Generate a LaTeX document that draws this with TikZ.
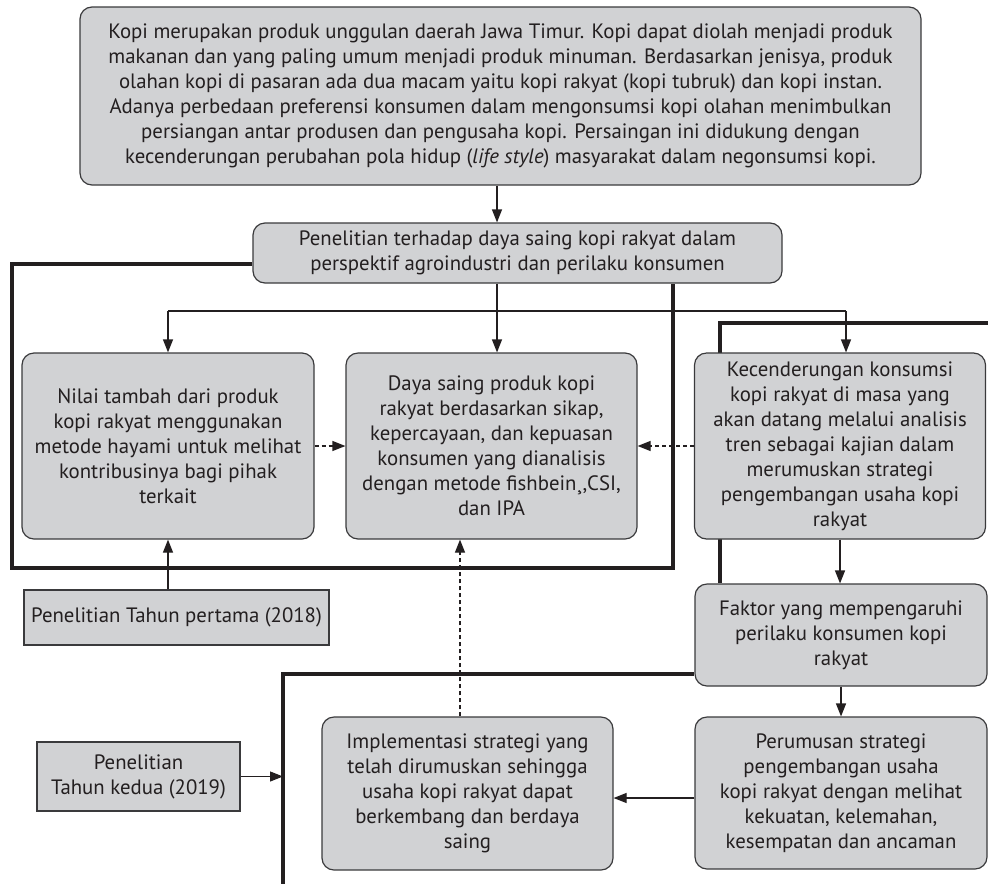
\documentclass[tikz,border=0pt]{standalone}
\usepackage{fontspec}
\setmainfont{PT Sans}
\usetikzlibrary{arrows.meta, backgrounds, positioning}
\definecolor{boxfill}{HTML}{D1D2D4}
\definecolor{boxline}{HTML}{3A3A3C}
\definecolor{ink}{HTML}{231F20}

\begin{document}
\begin{tikzpicture}[x=0.5pt, y=-0.5pt,
      every node/.style={font=\fontsize{10.4}{12.5}\selectfont, text=ink},
      kotak/.style={draw=boxline, fill=boxfill, line width=0.6pt, rounded corners=6pt, align=center, inner sep=0pt},
      kotaksiku/.style={draw=boxline, fill=boxfill, line width=0.6pt, align=center, inner sep=0pt},
      garis/.style={draw=ink, line width=0.6pt},
      panah/.style={garis, -{Triangle[length=6.5pt, width=5pt]}},
      panahputus/.style={panah, dash pattern=on 2pt off 1.5pt},
      bingkai/.style={draw=ink, line width=2pt}]
      \useasboundingbox (0,0) rectangle (988,884);

      %► Boxes
      \node[kotak, minimum width=420.5pt, minimum height=89pt] (intro) at (500.5,96)
        {Kopi merupakan produk unggulan daerah Jawa Timur. Kopi dapat diolah menjadi produk\\
         makanan dan yang paling umum menjadi produk minuman. Berdasarkan jenisya, produk\\
         olahan kopi di pasaran ada dua macam yaitu kopi rakyat (kopi tubruk) dan kopi instan.\\
         Adanya perbedaan preferensi konsumen dalam mengonsumsi kopi olahan menimbulkan\\
         persiangan antar produsen dan pengusaha kopi. Persaingan ini didukung dengan\\
         kecenderungan perubahan pola hidup (\textit{life style}) masyarakat dalam negonsumsi kopi.};
      \node[kotak, minimum width=264.5pt, minimum height=30pt] (riset) at (517.5,253)
        {Penelitian terhadap daya saing kopi rakyat dalam\\ perspektif agroindustri dan perilaku konsumen};
      \node[kotak, minimum width=146pt, minimum height=93pt] (nilai) at (168,446)
        {Nilai tambah dari produk\\ kopi rakyat menggunakan\\ metode hayami untuk melihat\\ kontribusinya bagi pihak\\ terkait};
      \node[kotak, minimum width=145.5pt, minimum height=93pt] (daya) at (491.5,446)
        {Daya saing produk kopi\\ rakyat berdasarkan sikap,\\ kepercayaan, dan kepuasan\\ konsumen yang dianalisis\\ dengan metode fishbein¸,CSI,\\ dan IPA};
      \node[kotak, minimum width=145.5pt, minimum height=93pt] (tren) at (840,446)
        {Kecenderungan konsumsi\\ kopi rakyat di masa yang\\ akan datang melalui analisis\\ tren sebagai kajian dalam\\ merumuskan strategi\\ pengembangan usaha kopi\\ rakyat};
      \node[kotak, minimum width=146pt, minimum height=51pt] (faktor) at (841,635)
        {Faktor yang mempengaruhi\\ perilaku konsumen kopi\\ rakyat};
      \node[kotak, minimum width=146pt, minimum height=76pt] (rumus) at (841,793)
        {Perumusan strategi\\ pengembangan usaha\\ kopi rakyat dengan melihat\\ kekuatan, kelemahan,\\ kesempatan dan ancaman};
      \node[kotak, minimum width=145.5pt, minimum height=76.5pt] (impl) at (467.5,793.5)
        {Implementasi strategi yang\\ telah dirumuskan sehingga\\ usaha kopi rakyat dapat\\ berkembang dan berdaya\\ saing};
      \node[kotaksiku, minimum width=152.5pt, minimum height=27.5pt] (tahun1) at (176.5,617.5)
        {Penelitian Tahun pertama (2018)};
      \node[kotaksiku, minimum width=101.5pt, minimum height=34.5pt] (tahun2) at (138.5,776.5)
        {Penelitian\\ Tahun kedua (2019)};

      %► Helper points
      \coordinate (cabang) at (497,311);
      \coordinate (k1) at (673,568);
      \coordinate (k2) at (988,323);
      \coordinate (k3) at (720,323);
      \coordinate (k4) at (283,884);

      %► Thick frames behind the boxes
      \begin{pgfonlayer}{background}
        \draw[bingkai] ([yshift=-5.5pt]riset.west) -- (12,264) -- (12,568) -- (k1) -- (k1 |- riset.south);
        \draw[bingkai] (k2) -- (k3) -- (k3 |- faktor.north);
        \draw[bingkai] ([yshift=-19.5pt]faktor.west) -| (k4);
      \end{pgfonlayer}

      %► Connectors
      \draw[panah] (cabang |- intro.south) -- (cabang |- riset.north);
      \draw[panah] (cabang |- riset.south) -- (cabang |- daya.north);
      \draw[garis] (cabang -| nilai.north) -- ([xshift=3pt]tren.north |- cabang);
      \draw[panah] (cabang -| nilai.north) -- (nilai.north);
      \draw[panah] ([xshift=3pt]tren.north |- cabang) -- ([xshift=3pt]tren.north);
      \draw[panahputus] (nilai.east) -- (daya.west);
      \draw[panahputus] (tren.west) -- (daya.east);
      \draw[panah] (nilai.south |- tahun1.north) -- (nilai.south);
      \draw[panahputus] ([xshift=-3.75pt]impl.north) -- ([xshift=-3.75pt]impl.north |- daya.south);
      \draw[panah] (tren.south) -- (tren.south |- faktor.north);
      \draw[panah] (faktor.south) -- (faktor.south |- rumus.north);
      \draw[panah] ([yshift=-2.5pt]rumus.west) -- ([yshift=-2.5pt]rumus.west -| impl.east);
      \draw[panah] (tahun2.east) -- (tahun2.east -| k4);
    \end{tikzpicture}
\end{document}
